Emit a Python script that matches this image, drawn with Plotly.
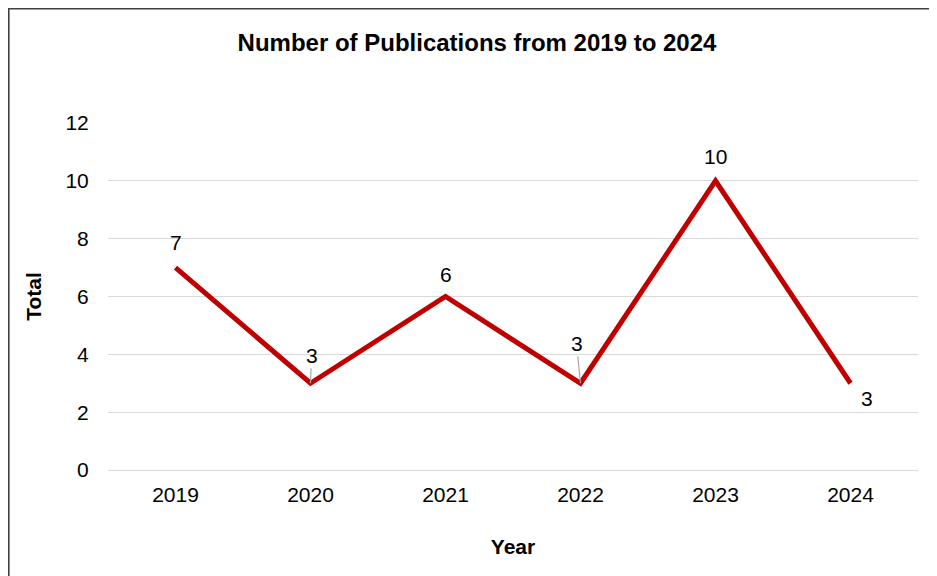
import plotly.graph_objects as go

years = ["2019", "2020", "2021", "2022", "2023", "2024"]
totals = [7, 3, 6, 3, 10, 3]
# label offsets (px) and whether a leader line is drawn
label_dx = [0, 1, 0, -4, 0, 16]
label_dy = [-25, -28, -22, -40, -24, 15]
leader = [False, True, False, True, False, False]

FONT = "Liberation Sans, Arial, sans-serif"
FS = 21

fig = go.Figure()
fig.add_trace(go.Scatter(
    x=years, y=totals, mode="lines",
    line=dict(color="#C00000", width=5),
    hoverinfo="x+y",
))

for i, (v, dx, dy, ld) in enumerate(zip(totals, label_dx, label_dy, leader)):
    fig.add_annotation(
        x=i, y=v, xref="x", yref="y", text=str(v),
        showarrow=True, ax=dx, ay=dy,
        arrowhead=0, arrowwidth=1.2,
        arrowcolor="#a6a6a6" if ld else "rgba(0,0,0,0)",
        standoff=0, startstandoff=0,
        font=dict(family=FONT, size=FS, color="#000000"),
    )

# page has an 8px body margin: figure origin sits at (8, 8) on screen
OFF = 8
W, H = 937 - OFF, 576 - OFF
L, T = 108 - OFF, 123 - OFF
R, B = W - (918 - OFF), H - (470 - OFF)
pw, ph = W - L - R, H - T - B
def px2paper_x(px):
    return (px - OFF - L) / pw
def px2paper_y(py):
    return (H - B - (py - OFF)) / ph

fig.add_shape(type="rect", xref="paper", yref="paper",
              x0=px2paper_x(8.8), x1=px2paper_x(960),
              y0=px2paper_y(600), y1=px2paper_y(8.8),
              line=dict(color="#404040", width=1.6), layer="below")

fig.update_layout(
    width=W, height=H,
    margin=dict(l=L, r=R, t=T, b=B, autoexpand=False),
    paper_bgcolor="white", plot_bgcolor="white",
    showlegend=False,
    font=dict(family=FONT, size=FS, color="#000000"),
    title=dict(text="<b>Number of Publications from 2019 to 2024</b>",
               x=(477 - OFF) / W, xref="container", xanchor="center",
               y=1 - (43 - OFF) / H, yref="container", yanchor="middle",
               font=dict(family=FONT, size=24, color="#000000")),
    xaxis=dict(
        type="category", range=[-0.5, 5.5], showgrid=False, zeroline=False, showline=False,
        ticks="outside", ticklen=6, tickcolor="rgba(0,0,0,0)",
        tickfont=dict(family=FONT, size=FS, color="#000000"),
        title=dict(text="<b>Year</b>", standoff=34,
                   font=dict(family=FONT, size=FS, color="#000000")),
    ),
    yaxis=dict(
        range=[0, 12], dtick=2, showgrid=True, gridcolor="#d9d9d9", gridwidth=1.2,
        zeroline=True, zerolinecolor="#d9d9d9", zerolinewidth=1.2, showline=False,
        ticks="outside", ticklen=14, tickcolor="rgba(0,0,0,0)",
        tickfont=dict(family=FONT, size=FS, color="#000000"),
        title=dict(text="<b>Total</b>", standoff=18,
                   font=dict(family=FONT, size=FS, color="#000000")),
    ),
)

fig.write_html("out.html")
